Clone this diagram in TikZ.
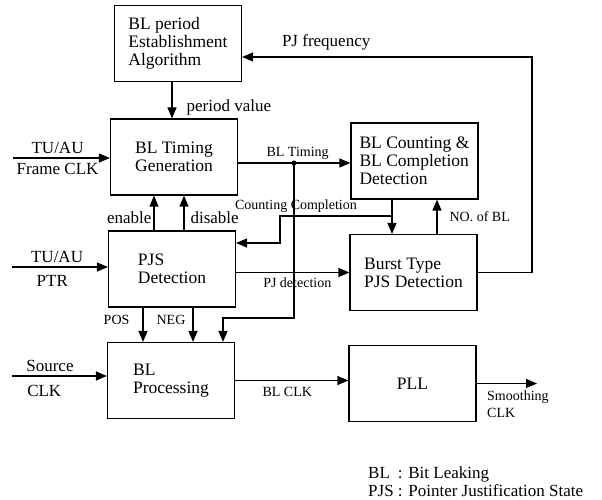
\documentclass[tikz,border=0pt]{standalone}
\usepackage{fontspec}
\setmainfont{Liberation Serif}
\usetikzlibrary{arrows.meta}

\begin{document}
\begin{tikzpicture}[x=1pt,y=1pt,
  blk/.style={draw,line width=1.2pt,minimum width=127pt,minimum height=76pt,align=left,font=\fontsize{17.5}{18}\selectfont},
  lbl/.style={inner sep=2pt,font=\fontsize{14}{15}\selectfont},
  lbm/.style={inner sep=2pt,font=\fontsize{17}{18}\selectfont},
  arr/.style={line width=1.2pt,-{Triangle[length=11pt,width=9pt]}}]
\useasboundingbox (0,0) rectangle (602,500);
%Blocks
\node[blk] (per) at (178,456.5) {BL period\\Establishment\\Algorithm};
\node[blk] (gen) at (174,343) {BL Timing\\Generation};
\node[blk] (pjs) at (172,231) {PJS\\Detection};
\node[blk] (proc) at (171,119.5) {BL\\Processing};
\node[blk] (cnt) at (414.5,339) {BL Counting \&\\BL Completion\\Detection};
\node[blk] (burst) at (413.5,227.5) {Burst Type\\PJS Detection};
\node[blk] (pll) at (412.5,116.5) {PLL};
%Points
\coordinate (tj) at (294,337);
\coordinate (tk) at (223,182);
\coordinate (cc) at (392,284);
\coordinate (cl) at (280,257);
\coordinate (pjf) at (532,443);
\coordinate (inclk) at (13,342);
\coordinate (inptr) at (12,233);
\coordinate (insrc) at (12,124);
\coordinate (outclk) at (537,117);
%Inputs
\draw[arr] (inclk) -- (inclk -| gen.west) node[lbm,pos=0.46,above=2pt] {TU/AU} node[lbm,pos=0.46,below=3pt] {Frame CLK};
\draw[arr] (inptr) -- (inptr -| pjs.west) node[lbm,pos=0.47,above=2pt] {TU/AU} node[lbm,pos=0.42,below=6pt] {PTR};
\draw[arr] (insrc) -- (insrc -| proc.west) node[lbm,pos=0.4,above=2pt] {Source} node[lbm,pos=0.34,below=7pt] {CLK};
%Left column
\draw[arr] ([xshift=-6pt]per.south) -- ([xshift=-6pt]per.south |- gen.north) node[lbm,pos=0.69,right=12pt] {period value};
\draw[arr] ([xshift=-18pt]pjs.north) -- ([xshift=-18pt]pjs.north |- gen.south) node[lbm,pos=0.36,left=0pt] {enable};
\draw[arr] ([xshift=12pt]pjs.north) -- ([xshift=12pt]pjs.north |- gen.south) node[lbm,pos=0.36,right=4pt] {disable};
\draw[arr] ([xshift=-29pt]pjs.south) -- ([xshift=-29pt]pjs.south |- proc.north) node[lbl,pos=0.36,left=11pt] {POS};
\draw[arr] ([xshift=21pt]pjs.south) -- ([xshift=21pt]pjs.south |- proc.north) node[lbl,pos=0.36,left=5pt] {NEG};
%BL Timing
\draw[arr] (gen.east |- tj) -- (tj -| cnt.west) node[lbl,pos=0.53,above=1pt] {BL Timing};
\fill (tj) circle (2.5pt);
\draw[arr] (tj) |- (tk) -- (tk |- proc.north);
%Counting Completion
\draw[arr] (cnt.south -| cc) -- (cc |- burst.north);
\draw[arr] (cc) -| (cl) -- (cl -| pjs.east);
\node[lbl] (cclbl) at (296,294) {Counting Completion};
\draw[arr] ([xshift=23.5pt]burst.north) -- ([xshift=23.5pt]burst.north |- cnt.south) node[lbl,midway,right=10pt] {NO. of BL};
%PJ
\draw[arr] (pjs.east |- burst.west) -- (burst.west) node[lbl,pos=0.54,below=3pt] {PJ detection};
\draw[arr] (burst.east) -| (pjf) -- (pjf -| per.east) node[lbm,pos=0.71,above=4pt] {PJ frequency};
%Output
\draw[arr] (proc.east) -- (proc.east -| pll.west) node[lbl,pos=0.46,below=4pt] {BL CLK};
\draw[arr] (pll.east) -- (pll.east -| outclk);
\node[lbl,font=\fontsize{14}{17}\selectfont,anchor=north west,align=left] (smlbl) at (485,111) {Smoothing\\CLK};
%Legend
\node[lbm,anchor=west] (legend) at (366,16) {\begin{tabular}{@{}l@{ }l@{}}BL & : Bit Leaking\\PJS & : Pointer Justification State\end{tabular}};
\end{tikzpicture}
\end{document}
